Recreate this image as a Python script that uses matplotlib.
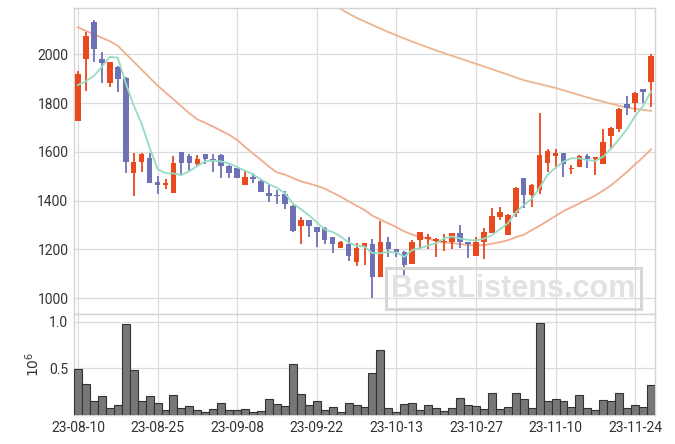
import numpy as np
import pandas as pd
import matplotlib
matplotlib.use("Agg")
import matplotlib.pyplot as plt
from matplotlib.patches import Rectangle

plt.rcParams['font.family'] = ['Roboto', 'DejaVu Sans']

# daily candles (KRW), 73 trading days from 23-08-10
opens = [1728, 1982, 2132, 1979, 1884, 1948, 1903, 1515, 1560, 1575,
         1476, 1465, 1433, 1598, 1583, 1551, 1591, 1571, 1587, 1542,
         1534, 1465, 1497, 1481, 1431, 1423, 1427, 1378, 1297, 1321,
         1292, 1288, 1251, 1207, 1222, 1146, 1210, 1222, 1088, 1231,
         1200, 1189, 1139, 1237, 1244, 1236, 1230, 1232, 1265, 1228,
         1174, 1228, 1266, 1333, 1259, 1348, 1492, 1423, 1444, 1556,
         1584, 1595, 1529, 1537, 1583, 1570, 1550, 1665, 1694, 1796,
         1799, 1858, 1888]
highs = [1930, 2090, 2141, 2008, 1970, 1950, 1905, 1597, 1597, 1594,
         1501, 1487, 1583, 1600, 1591, 1587, 1592, 1591, 1589, 1544,
         1535, 1523, 1512, 1487, 1468, 1444, 1441, 1380, 1332, 1322,
         1293, 1292, 1252, 1236, 1252, 1225, 1226, 1241, 1315, 1250,
         1201, 1195, 1240, 1273, 1262, 1245, 1262, 1268, 1300, 1230,
         1250, 1289, 1369, 1375, 1343, 1456, 1493, 1468, 1758, 1612,
         1612, 1597, 1546, 1587, 1590, 1580, 1692, 1703, 1781, 1829,
         1847, 1859, 2000]
lows = [1725, 1851, 1967, 1881, 1867, 1845, 1515, 1419, 1519, 1472,
        1426, 1446, 1432, 1505, 1523, 1542, 1550, 1516, 1492, 1492,
        1492, 1465, 1474, 1435, 1393, 1385, 1366, 1270, 1221, 1252,
        1211, 1221, 1184, 1206, 1151, 1133, 1135, 1000, 1088, 1168,
        1168, 1092, 1139, 1202, 1200, 1169, 1192, 1202, 1205, 1164,
        1172, 1159, 1265, 1321, 1257, 1332, 1369, 1375, 1426, 1519,
        1532, 1498, 1509, 1536, 1532, 1505, 1548, 1615, 1683, 1751,
        1765, 1799, 1785]
closes = [1919, 2075, 2023, 1963, 1968, 1900, 1560, 1558, 1591, 1474,
          1465, 1473, 1554, 1556, 1556, 1571, 1569, 1564, 1543, 1515,
          1494, 1496, 1489, 1437, 1420, 1419, 1387, 1277, 1321, 1297,
          1273, 1240, 1223, 1230, 1174, 1206, 1224, 1088, 1228, 1203,
          1191, 1136, 1228, 1269, 1251, 1243, 1234, 1265, 1230, 1222,
          1230, 1270, 1337, 1353, 1341, 1452, 1423, 1464, 1587, 1604,
          1595, 1549, 1533, 1583, 1570, 1578, 1639, 1698, 1776, 1781,
          1841, 1847, 1993]
# volume in millions of shares
volumes = [0.49, 0.33, 0.15, 0.20, 0.075, 0.106, 0.98, 0.48, 0.15, 0.20,
           0.128, 0.053, 0.21, 0.075, 0.092, 0.053, 0.032, 0.064, 0.124, 0.053,
           0.053, 0.064, 0.028, 0.039, 0.17, 0.114, 0.096, 0.55, 0.23, 0.103,
           0.146, 0.053, 0.085, 0.028, 0.124, 0.103, 0.082, 0.447, 0.70, 0.075,
           0.028, 0.114, 0.124, 0.053, 0.103, 0.075, 0.039, 0.075, 0.178, 0.103,
           0.092, 0.064, 0.24, 0.064, 0.082, 0.24, 0.17, 0.075, 0.986, 0.146,
           0.17, 0.146, 0.082, 0.21, 0.075, 0.053, 0.16, 0.146, 0.24, 0.075,
           0.103, 0.082, 0.326]

# moving average values before enough history exists
ma5_head = [1874, 1890, 1911, 1949]
ma20_head = [2111, 2096, 2082, 2068, 2054, 2035, 2002, 1970, 1937, 1904,
             1872, 1843, 1815, 1786, 1758, 1733, 1719, 1703, 1686]
# long moving average, visible from the 29th session on
ma_long = [2268, 2251, 2235, 2218, 2202, 2186, 2167, 2150, 2135, 2120,
           2106, 2091, 2078, 2065, 2052, 2040, 2028, 2016, 2005, 1994,
           1983, 1972, 1961, 1950, 1939, 1928, 1917, 1905, 1894, 1886,
           1878, 1870, 1862, 1852, 1843, 1833, 1823, 1814, 1806, 1797,
           1789, 1782, 1777, 1772, 1768]

tick_labels = ['23-08-10', '23-08-25', '23-09-08', '23-09-22',
               '23-10-13', '23-10-27', '23-11-10', '23-11-24']

n = len(closes)
x = np.arange(n)
o = np.array(opens, float)
c = np.array(closes, float)

cl = pd.Series(c)
ma5 = cl.rolling(5).mean().to_numpy()
ma5[:len(ma5_head)] = ma5_head
ma20 = cl.rolling(20).mean().to_numpy()
ma20[:len(ma20_head)] = ma20_head
ma_l = np.full(n, np.nan)
ma_l[n - len(ma_long):] = ma_long

UP = '#e8491d'
DOWN = '#6e72b5'
GRID = '#dcdcdc'
TXT = '#333333'

fig = plt.figure(figsize=(6.75, 4.44), dpi=100)
ax = fig.add_axes([0.1096, 0.293, 0.8608, 0.689])
axv = fig.add_axes([0.1096, 0.0653, 0.8608, 0.2277], sharex=ax)

colors = [UP if c[i] >= o[i] else DOWN for i in range(n)]
ax.vlines(x, lows, highs, colors=colors, linewidth=1.3, zorder=3)
body_lo = np.minimum(o, c)
body_h = np.maximum(np.abs(c - o), 4)
ax.bar(x, body_h, bottom=body_lo, width=0.7, color=colors, linewidth=0, zorder=4)

ax.plot(x, ma5, color='#95dcc2', lw=1.3, zorder=5)
ax.plot(x, ma20, color='#f0ad8e', lw=1.3, zorder=2)
ax.plot(x, ma_l, color='#ecb48e', lw=1.3, zorder=2)

ax.set_ylim(935, 2190)
ax.set_yticks([1000, 1200, 1400, 1600, 1800, 2000])
ax.set_xlim(-0.5, n - 0.5)
ticks = np.arange(0, n, 10)[:len(tick_labels)]
ax.set_xticks(ticks)
ax.tick_params(axis='x', labelbottom=False, length=0)
ax.tick_params(axis='y', length=0, labelsize=10, labelcolor=TXT, pad=4)
ax.grid(True, color=GRID, lw=0.9)
ax.set_axisbelow(True)

axv.bar(x, volumes, width=1.0, color='#777777', edgecolor='#333333', linewidth=0.8, zorder=3)
axv.set_ylim(0, 1.085)
axv.set_yticks([0.5, 1.0])
axv.set_yticklabels(['0.5', '1.0'])
axv.set_xticks(ticks)
axv.set_xticklabels(tick_labels)
axv.tick_params(length=0, labelsize=10, labelcolor=TXT, pad=4)
axv.grid(True, color=GRID, lw=0.9)
axv.set_axisbelow(True)
axv.set_ylabel('$10^6$', fontsize=10, color=TXT, labelpad=5)

for a in (ax, axv):
    for s in a.spines.values():
        s.set_color('#d4d4d4')
        s.set_linewidth(1.0)

# watermark
fig.patches.append(Rectangle((386 / 675, 1 - 309 / 444), 255 / 675, 41 / 444,
                             transform=fig.transFigure, fill=False,
                             edgecolor='#d6d6d6', linewidth=2.2, zorder=6))
fig.text(513 / 675, 1 - 289 / 444, 'BestListens.com', ha='center', va='center',
         fontsize=22, fontweight='bold', color='#e2e2e2',
         family=['Liberation Sans', 'DejaVu Sans'], zorder=6)

fig.savefig('out.png', dpi=100)
